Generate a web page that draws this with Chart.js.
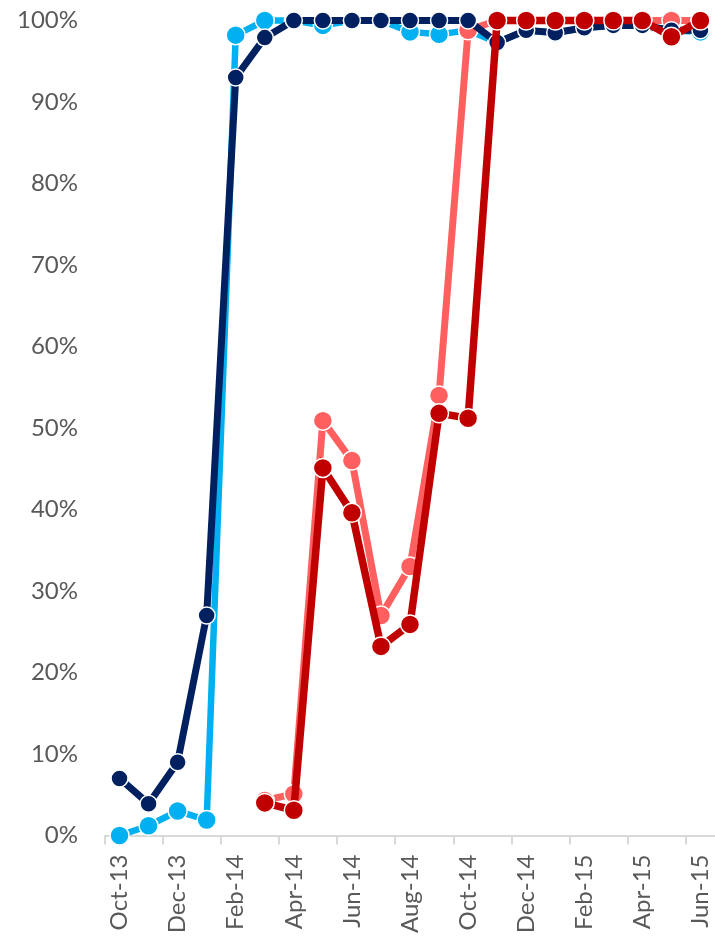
<!DOCTYPE html>
<html>
<head>
<meta charset="utf-8">
<script src="https://cdn.jsdelivr.net/npm/chart.js@4/dist/chart.umd.min.js"></script>
<style>
    html, body { margin: 0; padding: 0; background: #fff; }
    #wrap { width: 715px; height: 937px; }
</style>
</head>
<body>
<div id="wrap"><canvas id="trendChart"></canvas></div>
<script>
// Monthly categories
const months = [
    'Oct-13', 'Nov-13', 'Dec-13', 'Jan-14', 'Feb-14', 'Mar-14', 'Apr-14',
    'May-14', 'Jun-14', 'Jul-14', 'Aug-14', 'Sep-14', 'Oct-14', 'Nov-14',
    'Dec-14', 'Jan-15', 'Feb-15', 'Mar-15', 'Apr-15', 'May-15', 'Jun-15'
];

// Series values (percent)
const navySeries = [7, 3.9, 9, 27, 93, 97.9, 100, 100, 100, 100, 100, 100, 100,
    97.3, 98.8, 98.5, 99.1, 99.4, 99.4, 98.8, 98.8];
const lightBlueSeries = [0, 1.2, 3, 1.9, 98.2, 100, 100, 99.4, 100, 100, 98.6, 98.3, 98.8,
    97.3, 98.8, 98.5, 99.1, 99.4, 99.4, 98.8, 98.6];
const salmonSeries = [null, null, null, null, null, 4.3, 5.1, 50.9, 46, 27, 33, 54, 98.8,
    100, 100, 100, 100, 100, 100, 100, 100];
const darkRedSeries = [null, null, null, null, null, 4.0, 3.1, 45.1, 39.6, 23.2, 25.9, 51.8, 51.2,
    100, 100, 100, 100, 100, 100, 98, 100];

// Y axis ticks
const yTicks = [0, 10, 20, 30, 40, 50, 60, 70, 80, 90, 100];

const axisGrey = '#d9d9d9';
const labelGrey = '#595959';
const labelFont = { family: 'Lato', size: 24 };

function lineSeries(data, color, width, radius, order) {
    return {
        data: data,
        borderColor: color,
        backgroundColor: color,
        borderWidth: width,
        pointRadius: radius,
        pointHoverRadius: radius,
        pointBackgroundColor: color,
        pointBorderColor: '#ffffff',
        pointBorderWidth: 1.5,
        spanGaps: false,
        tension: 0,
        clip: false,
        order: order
    };
}

const ctx = document.getElementById('trendChart').getContext('2d');

new Chart(ctx, {
    type: 'line',
    data: {
        labels: months,
        datasets: [
            lineSeries(darkRedSeries, '#c00000', 7.5, 9.5, 0),
            lineSeries(navySeries, '#002060', 7, 8.5, 1),
            lineSeries(salmonSeries, '#ff5f5f', 7, 9.5, 2),
            lineSeries(lightBlueSeries, '#00b0f0', 6.5, 9.5, 3)
        ]
    },
    options: {
        responsive: true,
        maintainAspectRatio: false,
        animation: false,
        layout: {
            autoPadding: false,
            padding: { top: 20.5, right: 0, bottom: 0, left: 0 }
        },
        plugins: {
            legend: { display: false },
            tooltip: { enabled: false }
        },
        scales: {
            x: {
                offset: true,
                afterFit: scale => {
                    // keep the plot running to the right edge
                    scale.height = 101.5;
                    scale.paddingLeft = 0;
                    scale.paddingRight = 0;
                },
                grid: {
                    offset: true,
                    drawOnChartArea: false,
                    drawTicks: true,
                    tickLength: 9,
                    lineWidth: 2,
                    color: c => (c.index !== undefined && c.index % 2 === 0) ? axisGrey : 'transparent'
                },
                border: { display: true, color: axisGrey, width: 2 },
                ticks: {
                    autoSkip: false,
                    maxRotation: 90,
                    minRotation: 90,
                    padding: 10,
                    color: labelGrey,
                    font: labelFont,
                    callback: (value, index) => index % 2 === 0 ? months[index] : ''
                }
            },
            y: {
                min: 0,
                max: 100,
                afterFit: scale => {
                    scale.width = 105;
                    scale.paddingTop = 0;
                    scale.paddingBottom = 0;
                },
                afterBuildTicks: scale => {
                    scale.ticks = yTicks.map(v => ({ value: v }));
                },
                grid: { display: false, drawTicks: false },
                border: { display: false },
                ticks: {
                    padding: 27,
                    color: labelGrey,
                    font: labelFont,
                    callback: v => v + '%'
                }
            }
        }
    }
});
</script>
</body>
</html>
